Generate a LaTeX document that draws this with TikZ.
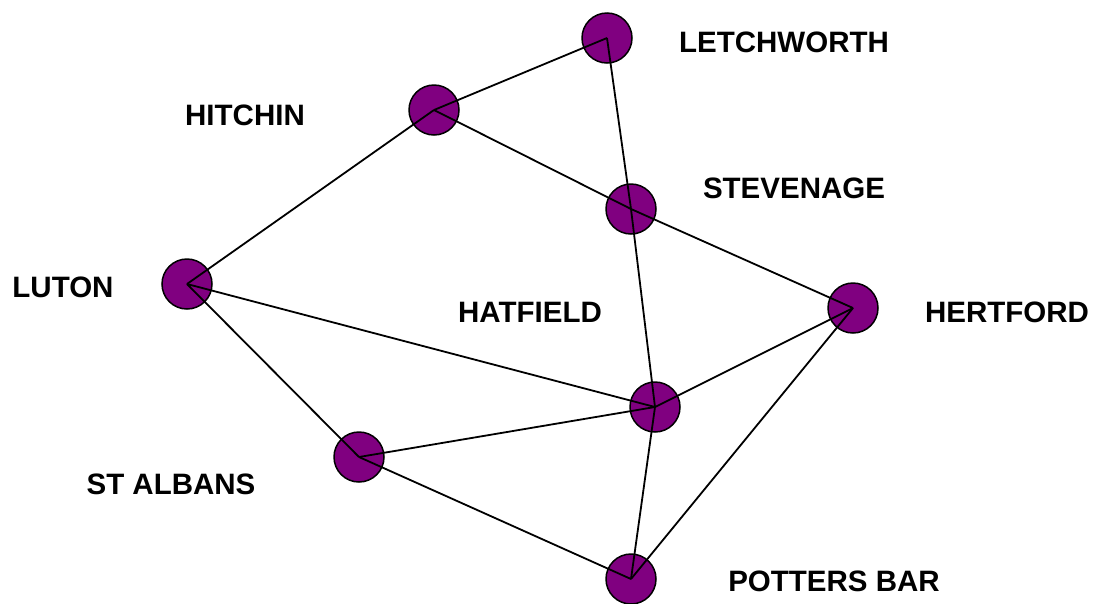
\documentclass[tikz,border=0pt]{standalone}
\usepackage{fontspec}
\setmainfont{Liberation Sans}
\begin{document}
\begin{tikzpicture}[x=1pt,y=-1pt,
  town/.style={circle,draw=black,line width=1.5pt,fill=townpurple,minimum size=50pt,inner sep=0pt},
  lbl/.style={font=\fontsize{29.5}{32}\selectfont\bfseries,inner sep=0pt},
  edge/.style={draw=black,line width=1.8pt}]
\definecolor{townpurple}{HTML}{800080}
\useasboundingbox (0,0) rectangle (1094,603);
% circles
\node[town] (let) at (607,38) {};
\node[town] (hit) at (434,110) {};
\node[town] (ste) at (631,209) {};
\node[town] (lut) at (187,284) {};
\node[town] (her) at (853,308) {};
\node[town] (hat) at (655,407) {};
\node[town] (sta) at (359,457) {};
\node[town] (pot) at (631,579) {};
% edges to centres
\draw[edge] (let.center) -- (hit.center);
\draw[edge] (let.center) -- (ste.center);
\draw[edge] (hit.center) -- (ste.center);
\draw[edge] (hit.center) -- (lut.center);
\draw[edge] (ste.center) -- (her.center);
\draw[edge] (ste.center) -- (hat.center);
\draw[edge] (lut.center) -- (hat.center);
\draw[edge] (lut.center) -- (sta.center);
\draw[edge] (sta.center) -- (hat.center);
\draw[edge] (sta.center) -- (pot.center);
\draw[edge] (hat.center) -- (her.center);
\draw[edge] (hat.center) -- (pot.center);
\draw[edge] (her.center) -- (pot.center);
% labels
\node[lbl] (tlet) at (784,42) {LETCHWORTH};
\node[lbl] (thit) at (245,115) {HITCHIN};
\node[lbl] (tste) at (794,188) {STEVENAGE};
\node[lbl] (tlut) at (63,287) {LUTON};
\node[lbl] (that) at (530,312) {HATFIELD};
\node[lbl] (ther) at (1007,312) {HERTFORD};
\node[lbl] (tsta) at (171,484) {ST ALBANS};
\node[lbl] (tpot) at (834,581) {POTTERS BAR};
\end{tikzpicture}
\end{document}
